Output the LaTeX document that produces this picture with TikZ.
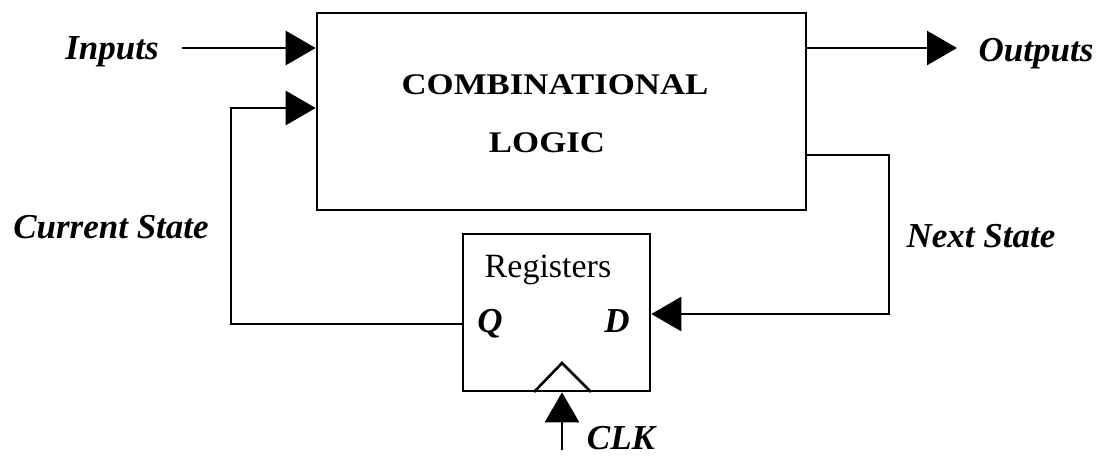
\documentclass[tikz,border=0pt]{standalone}
\usepackage{fontspec}
\setmainfont{Liberation Serif}
\newfontfamily\wideserif[FakeStretch=1.16]{Liberation Serif}
\usetikzlibrary{arrows.meta}
\tikzset{
  wire/.style={line width=2.6pt, line cap=rect},
  arr/.style={wire, -{Triangle[length=30pt,width=34pt]}},
  blk/.style={draw, line width=2.6pt, inner sep=0pt, rectangle},
  lbl/.style={anchor=base, inner sep=0pt, font=\fontsize{35}{40}\selectfont\bfseries\itshape},
  plain/.style={anchor=base, inner sep=0pt, font=\fontsize{34}{39}\selectfont},
  title/.style={anchor=base, inner sep=0pt, font=\wideserif\fontsize{30}{35}\selectfont\bfseries}
}
\begin{document}
\begin{tikzpicture}[x=1pt,y=-1pt]
\useasboundingbox (0,0) rectangle (1101,456);
% blocks
\node[blk, minimum width=489pt, minimum height=197pt] (comb) at (561.5,111.5) {};
\node[blk, minimum width=187pt, minimum height=157pt] (reg) at (556.5,312.5) {};
% texts
\node[title] (t1) at (555,94) {COMBINATIONAL};
\node[title] (t2) at (547,152) {LOGIC};
\node[plain] (rt) at (548,277) {Registers};
\node[lbl] (q) at (490,332) {Q};
\node[lbl] (d) at (617,332) {D};
\node[lbl] (inl) at (112,59) {Inputs};
\node[lbl] (outl) at (1036,61) {Outputs};
\node[lbl] (csl) at (111,238) {Current State};
\node[lbl] (nsl) at (981,247) {Next State};
\node[lbl] (clkl) at (621,449) {CLK};
% clock triangle
\coordinate (ck1) at (535,391);
\coordinate (ck2) at (562,363);
\coordinate (ck3) at (590,391);
\draw[wire, line join=miter] (ck1) -- (ck2) -- (ck3);
% connectors
\coordinate (inA) at (183,48);
\draw[arr] (inA) -- (inA -| comb.west);
\coordinate (outA) at (806,48);
\coordinate (outB) at (957,48);
\draw[arr] (outA) -- (outB);
\coordinate (qA) at (463,324);
\coordinate (csB) at (231,108);
\draw[arr] (qA) -| (csB) -- (csB -| comb.west);
\coordinate (nsA) at (806,155);
\coordinate (nsB) at (889,314);
\draw[arr] (nsA) -| (nsB) -- (nsB -| reg.east);
\coordinate (clkA) at (562,449);
\draw[arr] (clkA) -- (clkA |- reg.south);
\end{tikzpicture}
\end{document}
